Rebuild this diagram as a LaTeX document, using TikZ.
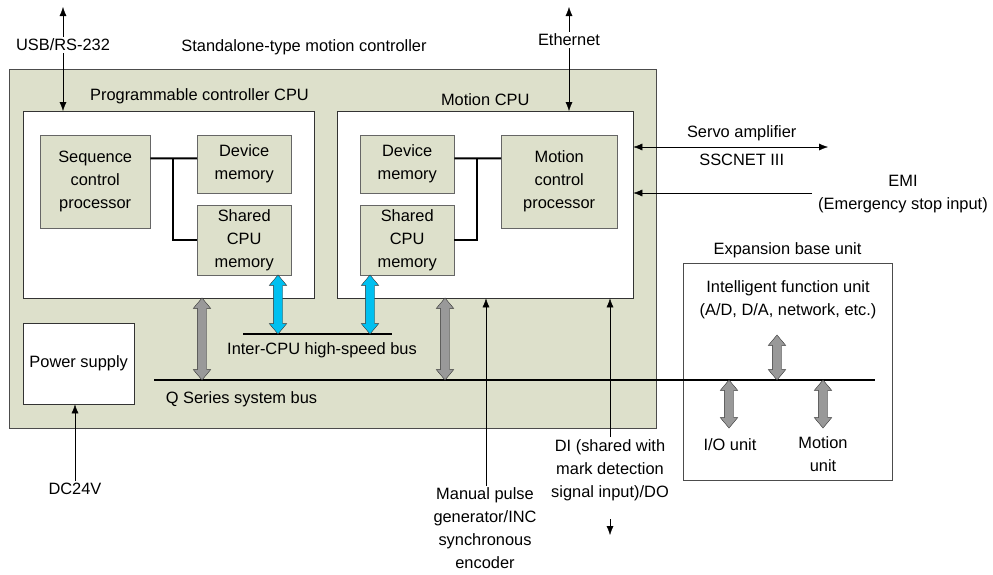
\documentclass[tikz,border=0pt]{standalone}
\usepackage{fontspec}
\setmainfont{Liberation Sans}
\usepackage{xcolor}
\usetikzlibrary{positioning, arrows.meta, shapes.arrows, calc}

\definecolor{panelgreen}{RGB}{221,224,203}
\definecolor{busblue}{RGB}{0,192,240}
\definecolor{busgray}{RGB}{153,153,153}

\begin{document}
\begin{tikzpicture}[
  x=1pt, y=-1pt,
  font=\fontsize{16.4}{23}\selectfont,
  >=Latex,
  arrow/.style={-{Latex[length=9pt, width=7pt]}, draw=black},
  biarrow/.style={{Latex[length=9pt, width=7pt]}-{Latex[length=9pt, width=7pt]}, draw=black},
  panel/.style={draw=black!70, fill=panelgreen, anchor=north west, inner sep=0pt},
  cpubox/.style={draw=black!80, fill=white, anchor=north west, inner sep=0pt},
  unit/.style={draw=black!60, fill=panelgreen, anchor=north west, align=center, inner sep=0pt},
  link/.style={line width=2pt, draw=black},
  bus/.style={line width=2pt, draw=black},
  lab/.style={align=center, inner sep=2pt},
  fatarrow/.style={draw=black!80, double arrow, rotate=90, double arrow head extend=4,
                   double arrow tip angle=80, minimum width=17, inner xsep=0pt,
                   inner ysep=4.5pt, fill=#1}
]
\useasboundingbox (0,0) rectangle (993,574);

% Standalone controller and its CPUs
\node[panel, minimum width=647, minimum height=359] (ctrl) at (9,69) {};
\node[cpubox, minimum width=291, minimum height=187] (plccpu) at (23,111) {};
\node[cpubox, minimum width=296, minimum height=187] (mcpu) at (337,111) {};
\node[cpubox, minimum width=111, minimum height=81, align=center] (power) at (23,323) {Power supply};

% Programmable controller CPU internals
\node[unit, minimum width=110, minimum height=93] (seqproc) at (40,135) {Sequence\\control\\processor};
\node[unit, minimum width=94, minimum height=58] (plcdev) at (197,135) {Device\\memory};
\node[unit, minimum width=94, minimum height=70] (plcshared) at (197,205) {Shared\\CPU\\memory};

% Motion CPU internals
\node[unit, minimum width=94, minimum height=58] (mdev) at (360,135) {Device\\memory};
\node[unit, minimum width=94, minimum height=70] (mshared) at (360,205) {Shared\\CPU\\memory};
\node[unit, minimum width=116, minimum height=93] (mproc) at (501,135) {Motion\\control\\processor};

% Expansion base unit
\node[cpubox, draw=black!70, minimum width=209, minimum height=217] (expbase) at (683,263) {};

% Internal links
\draw[link] ($(seqproc.north east)!0.25!(seqproc.south east)$) -- ($(plcdev.north west)!0.4!(plcdev.south west)$);
\coordinate (plcjoint) at (173,158);
\draw[link] (plcjoint) |- ($(plcshared.north west)!0.5!(plcshared.south west)$);
\draw[link] ($(mdev.north east)!0.4!(mdev.south east)$) -- ($(mproc.north west)!0.25!(mproc.south west)$);
\coordinate (mjoint) at (477,158);
\draw[link] (mjoint) |- ($(mshared.north east)!0.5!(mshared.south east)$);

% Buses
\coordinate (ibusL) at (243,334);
\coordinate (ibusR) at (392,334);
\draw[bus] (ibusL) -- (ibusR);
\coordinate (qbusL) at (154,380);
\coordinate (qbusR) at (875,380);
\draw[bus] (qbusL) -- (qbusR);

% Bus accesses
\node[fatarrow=busblue, minimum height=59] (ia1) at (278,304.5) {};
\node[fatarrow=busblue, minimum height=59] (ia2) at (370,304.5) {};
\node[fatarrow=busgray, minimum height=82] (qa1) at (202,339) {};
\node[fatarrow=busgray, minimum height=82] (qa2) at (445,339) {};
\node[fatarrow=busgray, minimum height=45] (qa3) at (777,357.5) {};
\node[fatarrow=busgray, minimum height=48] (qa4) at (729,404) {};
\node[fatarrow=busgray, minimum height=48] (qa5) at (823,404) {};

% Labels
\node[lab] (title) at (304,47) {Standalone-type motion controller};
\node[lab] (plclab) at (199.5,96) {Programmable controller CPU};
\node[lab, above=3pt of mcpu] (mlab) {Motion CPU};
\node[lab] (ibuslab) at (322,350) {Inter-CPU high-speed bus};
\node[lab] (qbuslab) at (241.5,399) {Q Series system bus};
\node[lab] (explab) at (787.5,250) {Expansion base unit};
\node[lab] (intlab) at (788,299.5) {Intelligent function unit\\(A/D, D/A, network, etc.)};
\node[lab] (iolab) at (730,445) {I/O unit};
\node[lab] (motlab) at (823,454) {Motion\\unit};

% External connections
\node[lab, fill=white] (usb) at (63,45) {USB/RS-232};
\coordinate (usbend) at (63,7);
\draw[arrow] (usb.north) -- (usbend);
\draw[arrow] (usb.south) -- (usb.south |- plccpu.north);

\node[lab, fill=white] (eth) at (569,40) {Ethernet};
\coordinate (ethend) at (569,7);
\draw[arrow] (eth.north) -- (ethend);
\draw[arrow] (eth.south) -- (eth.south |- mcpu.north);

\coordinate (servoend) at (828,147);
\draw[biarrow] (mcpu.east |- servoend) -- (servoend);
\node[lab] (servolab) at (741.7,133) {Servo amplifier};
\node[lab] (sscnet) at (741.7,160) {SSCNET III};

\coordinate (emiend) at (812,193);
\draw[arrow] (emiend) -- (mcpu.east |- emiend);
\node[lab] (emilab) at (903,194) {EMI\\(Emergency stop input)};

\node[lab] (dc) at (75,489) {DC24V};
\draw[arrow] (dc.north) -- (power.south -| dc.north);

\node[lab] (mpg) at (485,528.5) {Manual pulse\\generator/INC\\synchronous\\encoder};
\draw[arrow] (mpg.north -| 486,0) -- (mcpu.south -| 486,0);

\node[lab] (dio) at (610,470) {DI (shared with\\mark detection\\signal input)/DO};
\draw[arrow] (dio.north) -- (mcpu.south -| dio.north);
\coordinate (diostart) at (610,519);
\coordinate (dioend) at (610,535);
\draw[arrow] (diostart) -- (dioend);

\end{tikzpicture}
\end{document}
